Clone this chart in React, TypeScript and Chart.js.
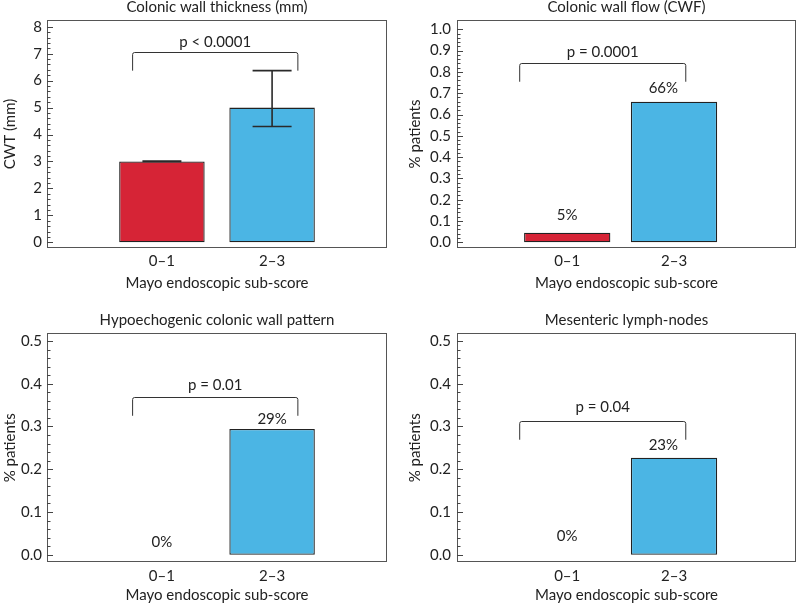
import React, { useEffect, useRef } from 'react';
import { Chart, registerables } from 'chart.js';

Chart.register(...registerables);

// ---------- data ----------
const categories = ['0–1', '2–3'];
const categoryPositions = [1, 2];

const cwtMeans = [3.0, 5.0];
const cwtErrLow = [3.0, 4.3];
const cwtErrHigh = [3.02, 6.37];

const cwfShare = [0.045, 0.66];
const cwfLabels = ['5%', '66%'];

const hypoShare = [0, 0.294];
const hypoLabels = ['0%', '29%'];

const lymphShare = [0, 0.227];
const lymphLabels = ['0%', '23%'];

const cwtTicks = [0, 1, 2, 3, 4, 5, 6, 7, 8];
const shareTicksFull = [0, 0.1, 0.2, 0.3, 0.4, 0.5, 0.6, 0.7, 0.8, 0.9, 1.0];
const shareTicksHalf = [0, 0.1, 0.2, 0.3, 0.4, 0.5];

const panelTitles = [
  'Colonic wall thickness (mm)',
  'Colonic wall flow (CWF)',
  'Hypoechogenic colonic wall pattern',
  'Mesenteric lymph-nodes',
];
const yTitles = ['CWT (mm)', '% patients', '% patients', '% patients'];
const xTitle = 'Mayo endoscopic sub-score';
const pTexts = ['p < 0.0001', 'p = 0.0001', 'p = 0.01', 'p = 0.04'];

const barColors = ['#D62436', '#4BB5E4'];

// ---------- layout / style ----------
const FONT = 'Lato, "Open Sans", sans-serif';
const FS = 15;
const TEXT = '#222222';

type Panel = {
  left: number; top: number; width: number; height: number;
  title: string; yTitle: string; pText: string;
  values: number[]; errLow?: number[]; errHigh?: number[];
  valueLabels?: string[]; labelX?: number[]; labelY?: number[];
  yTicks: number[]; decimals: number; minorStep: number;
  yMin: number; yMax: number; xMin: number; xMax: number;
  yAxisWidth: number; xAxisHeight: number; padTop: number; padRight: number;
  yTitlePad: number; xTitlePad: number; yTickPad: number; xTickPad: number;
  barPct: number;
  bracket: { x0: number; x1: number; y: number; yEnd: number; textY: number };
};

const panels: Panel[] = [
  {
    left: 0, top: 0, width: 398, height: 300,
    title: panelTitles[0], yTitle: yTitles[0], pText: pTexts[0],
    values: cwtMeans, errLow: cwtErrLow, errHigh: cwtErrHigh,
    yTicks: cwtTicks, decimals: 0, minorStep: 0.2,
    yMin: -0.21, yMax: 8.25, xMin: -0.043, xMax: 3.043,
    yAxisWidth: 47, xAxisHeight: 52, padTop: 20, padRight: 11,
    yTitlePad: 1.2, xTitlePad: 8.2, yTickPad: 5, xTickPad: 4,
    barPct: 0.776,
    bracket: { x0: 0.734, x1: 2.234, y: 7.05, yEnd: 6.37, textY: 7.44 },
  },
  {
    left: 398, top: 0, width: 399, height: 300,
    title: panelTitles[1], yTitle: yTitles[1], pText: pTexts[1],
    values: cwfShare, valueLabels: cwfLabels, labelX: [1, 1.9], labelY: [0.128, 0.723],
    yTicks: shareTicksFull, decimals: 1, minorStep: 0.02,
    yMin: -0.027, yMax: 1.044, xMin: -0.032, xMax: 3.142,
    yAxisWidth: 59, xAxisHeight: 52, padTop: 20, padRight: 1,
    yTitlePad: 8.2, xTitlePad: 8.2, yTickPad: 6, xTickPad: 4,
    barPct: 0.808,
    bracket: { x0: 0.555, x1: 2.11, y: 0.84, yEnd: 0.754, textY: 0.892 },
  },
  {
    left: 0, top: 300, width: 398, height: 305,
    title: panelTitles[2], yTitle: yTitles[2], pText: pTexts[2],
    values: hypoShare, valueLabels: hypoLabels, labelX: [1, 2], labelY: [0.029, 0.318],
    yTicks: shareTicksHalf, decimals: 1, minorStep: 0.02,
    yMin: -0.0178, yMax: 0.518, xMin: -0.043, xMax: 3.043,
    yAxisWidth: 47, xAxisHeight: 42.7, padTop: 33.3, padRight: 11,
    yTitlePad: 1.2, xTitlePad: 1.2, yTickPad: 5, xTickPad: 5,
    barPct: 0.776,
    bracket: { x0: 0.734, x1: 2.234, y: 0.369, yEnd: 0.325, textY: 0.396 },
  },
  {
    left: 398, top: 300, width: 399, height: 305,
    title: panelTitles[3], yTitle: yTitles[3], pText: pTexts[3],
    values: lymphShare, valueLabels: lymphLabels, labelX: [1, 1.9], labelY: [0.0445, 0.257],
    yTicks: shareTicksHalf, decimals: 1, minorStep: 0.02,
    yMin: -0.0178, yMax: 0.518, xMin: -0.032, xMax: 3.142,
    yAxisWidth: 59, xAxisHeight: 42.7, padTop: 33.3, padRight: 1,
    yTitlePad: 8.2, xTitlePad: 1.2, yTickPad: 6, xTickPad: 5,
    barPct: 0.808,
    bracket: { x0: 0.555, x1: 2.11, y: 0.312, yEnd: 0.269, textY: 0.345 },
  },
];

function makeDecorPlugin(p: Panel) {
  return {
    id: 'decor',
    afterDatasetsDraw(chart: any) {
      const ctx = chart.ctx as CanvasRenderingContext2D;
      const area = chart.chartArea;
      const xs = chart.scales.x;
      const ys = chart.scales.y;
      ctx.save();

      // panel title
      ctx.fillStyle = TEXT;
      ctx.font = `${FS}px ${FONT}`;
      ctx.textAlign = 'center';
      ctx.textBaseline = 'middle';
      ctx.fillText(p.title, (area.left + area.right) / 2, area.top - 13);

      // frame
      ctx.strokeStyle = '#555555';
      ctx.lineWidth = 1;
      ctx.strokeRect(Math.round(area.left) + 0.5, Math.round(area.top) + 0.5,
        Math.round(area.right - area.left) - 1, Math.round(area.bottom - area.top) - 1);

      // inward ticks (major + minor)
      const first = p.yTicks[0];
      const last = p.yTicks[p.yTicks.length - 1];
      const majorStep = p.yTicks[1] - p.yTicks[0];
      const n = Math.round((last - first) / p.minorStep);
      const perMajor = Math.round(majorStep / p.minorStep);
      ctx.strokeStyle = '#444';
      for (let i = 0; i <= n; i++) {
        const v = first + i * p.minorStep;
        const y = Math.round(ys.getPixelForValue(v)) + 0.5;
        const len = i % perMajor === 0 ? 6 : 3.5;
        ctx.beginPath();
        ctx.moveTo(area.left, y);
        ctx.lineTo(area.left + len, y);
        ctx.stroke();
      }

      // error bars
      if (p.errLow && p.errHigh) {
        ctx.strokeStyle = '#2a2a2a';
        ctx.lineWidth = 1.6;
        const capHalf = 19.5;
        for (let i = 0; i < categoryPositions.length; i++) {
          const x = xs.getPixelForValue(categoryPositions[i]);
          const yl = ys.getPixelForValue(p.errLow[i]);
          const yh = ys.getPixelForValue(p.errHigh[i]);
          ctx.beginPath();
          ctx.moveTo(x, yl); ctx.lineTo(x, yh);
          ctx.moveTo(x - capHalf, yl); ctx.lineTo(x + capHalf, yl);
          ctx.moveTo(x - capHalf, yh); ctx.lineTo(x + capHalf, yh);
          ctx.stroke();
        }
      }

      // bracket
      const b = p.bracket;
      const bx0 = xs.getPixelForValue(b.x0);
      const bx1 = xs.getPixelForValue(b.x1);
      const by = Math.round(ys.getPixelForValue(b.y)) + 0.5;
      const byEnd = ys.getPixelForValue(b.yEnd);
      ctx.strokeStyle = '#333';
      ctx.lineWidth = 1;
      ctx.beginPath();
      ctx.moveTo(bx0, byEnd);
      ctx.lineTo(bx0, by + 2);
      ctx.quadraticCurveTo(bx0, by, bx0 + 2, by);
      ctx.lineTo(bx1 - 2, by);
      ctx.quadraticCurveTo(bx1, by, bx1, by + 2);
      ctx.lineTo(bx1, byEnd);
      ctx.stroke();
      ctx.fillStyle = TEXT;
      ctx.font = `${FS}px ${FONT}`;
      ctx.textAlign = 'center';
      ctx.textBaseline = 'middle';
      ctx.fillText(p.pText, (bx0 + bx1) / 2, ys.getPixelForValue(b.textY));

      // value labels
      if (p.valueLabels && p.labelX && p.labelY) {
        for (let i = 0; i < p.valueLabels.length; i++) {
          ctx.fillText(p.valueLabels[i], xs.getPixelForValue(p.labelX[i]), ys.getPixelForValue(p.labelY[i]));
        }
      }
      ctx.restore();
    },
  };
}

function PanelChart({ p }: { p: Panel }) {
  const ref = useRef<HTMLCanvasElement | null>(null);
  useEffect(() => {
    if (!ref.current) return;
    const chart = new Chart(ref.current, {
      type: 'bar',
      data: {
        datasets: [
          {
            data: categoryPositions.map((x, i) => ({ x, y: p.values[i] })),
            backgroundColor: barColors,
            borderColor: '#222222',
            borderWidth: 1.3,
            borderSkipped: false,
            barPercentage: p.barPct,
            categoryPercentage: 1,
          } as any,
        ],
      },
      plugins: [makeDecorPlugin(p)],
      options: {
        responsive: false,
        animation: false,
        events: [],
        layout: { padding: { top: p.padTop, right: p.padRight, left: 0, bottom: 0 } },
        plugins: { legend: { display: false }, tooltip: { enabled: false }, title: { display: false } },
        scales: {
          x: {
            type: 'linear',
            offset: false,
            min: p.xMin,
            max: p.xMax,
            afterBuildTicks: (s: any) => { s.ticks = categoryPositions.map((v) => ({ value: v })); },
            afterFit: (s: any) => { s.height = p.xAxisHeight; },
            ticks: {
              callback: (v: any) => {
                const idx = categoryPositions.indexOf(Number(v));
                return idx >= 0 ? categories[idx] : '';
              },
              font: { family: FONT, size: FS },
              color: TEXT,
              padding: p.xTickPad,
              maxRotation: 0,
              autoSkip: false,
            },
            grid: { display: false, drawTicks: false, offset: false },
            border: { display: false },
            title: {
              display: true, text: xTitle, color: TEXT,
              font: { family: FONT, size: FS, lineHeight: 1.2 },
              padding: { top: 0, bottom: p.xTitlePad },
            },
          },
          y: {
            type: 'linear',
            min: p.yMin,
            max: p.yMax,
            afterBuildTicks: (s: any) => { s.ticks = p.yTicks.map((v) => ({ value: v })); },
            afterFit: (s: any) => { s.width = p.yAxisWidth; },
            ticks: {
              callback: (v: any) => Number(v).toFixed(p.decimals),
              font: { family: FONT, size: FS },
              color: TEXT,
              padding: p.yTickPad,
              autoSkip: false,
            },
            grid: { display: false, drawTicks: false },
            border: { display: false },
            title: {
              display: true, text: p.yTitle, color: TEXT,
              font: { family: FONT, size: FS, lineHeight: 1.2 },
              padding: { top: p.yTitlePad, bottom: 0 },
            },
          },
        },
      } as any,
    });
    return () => chart.destroy();
  }, [p]);
  return (
    <canvas
      ref={ref}
      width={p.width}
      height={p.height}
      style={{ position: 'absolute', left: p.left, top: p.top, width: p.width, height: p.height, display: 'block' }}
    />
  );
}

export default function App() {
  return (
    <div style={{ position: 'fixed', left: 0, top: 0, width: 797, height: 605, background: '#ffffff', overflow: 'hidden' }}>
      {panels.map((p, i) => (
        <PanelChart key={i} p={p} />
      ))}
    </div>
  );
}
